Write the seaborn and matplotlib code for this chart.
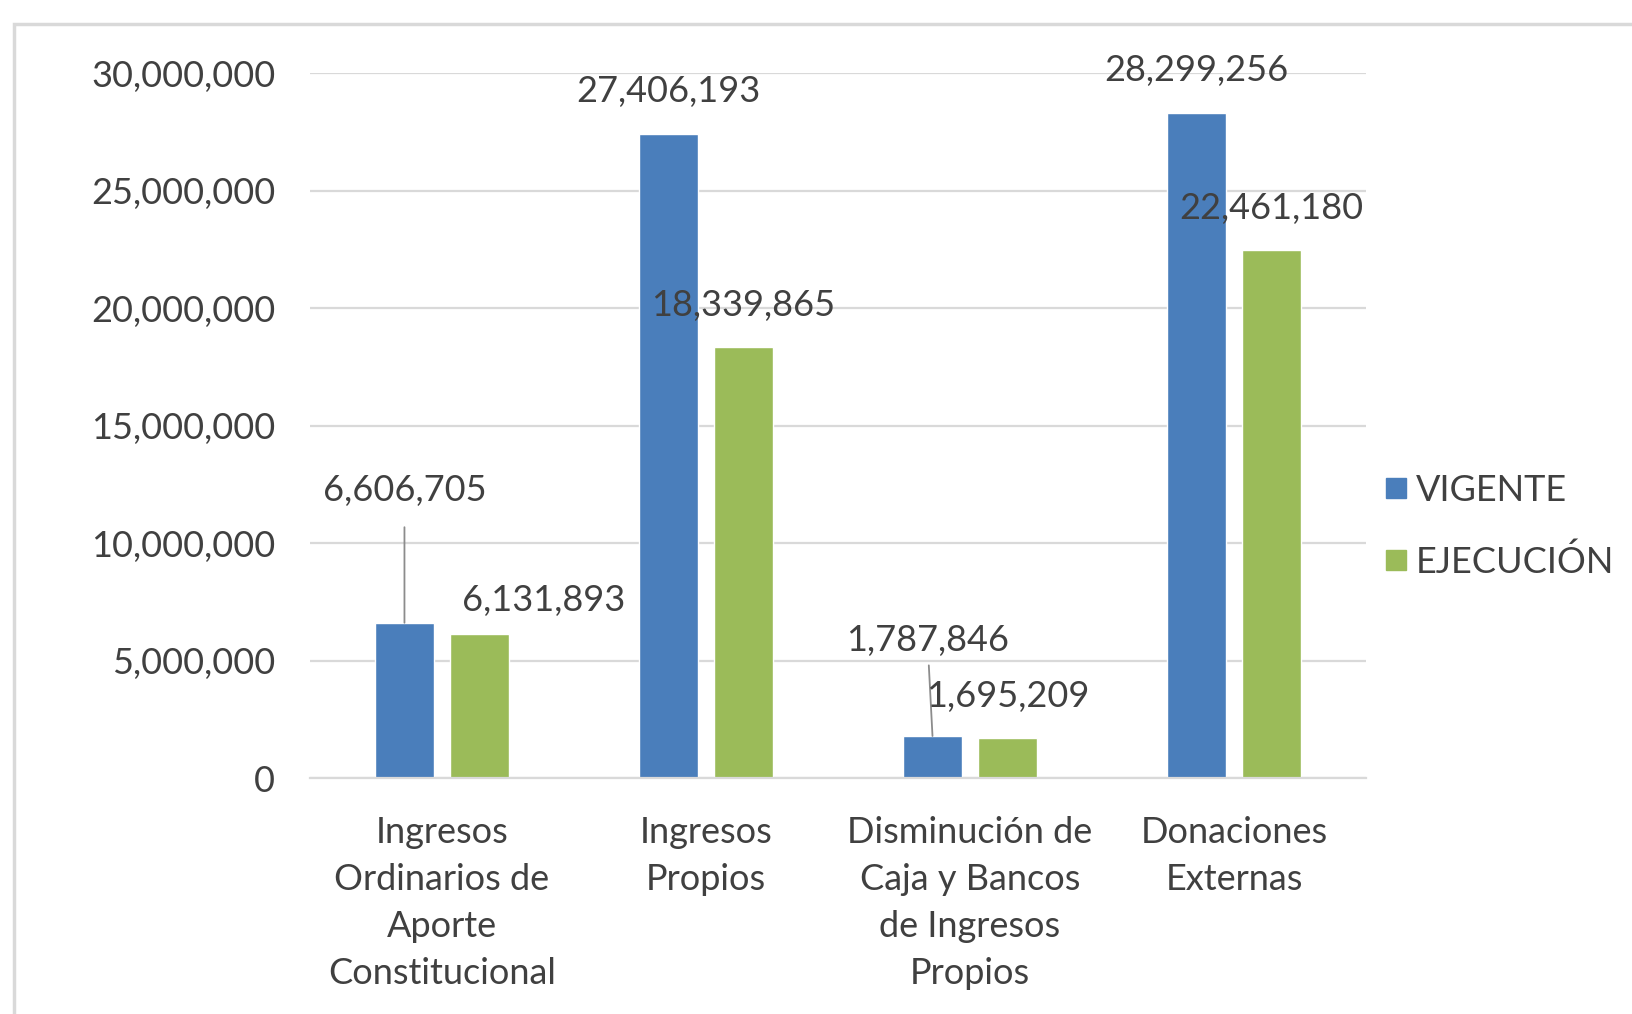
import pandas as pd
import matplotlib
matplotlib.use('Agg')
import matplotlib.pyplot as plt
import seaborn as sns
from matplotlib.lines import Line2D
from matplotlib.patches import Rectangle
from matplotlib.ticker import FuncFormatter

# Data
categories = ['Ingresos\nOrdinarios de\nAporte\nConstitucional',
              'Ingresos\nPropios',
              'Disminución de\nCaja y Bancos\nde Ingresos\nPropios',
              'Donaciones\nExternas']
vigente = [6606705, 27406193, 1787846, 28299256]
ejecucion = [6131893, 18339865, 1695209, 22461180]
series = ['VIGENTE', 'EJECUCIÓN']

df = pd.DataFrame({
    'Categoria': categories * 2,
    'Serie': [series[0]] * 4 + [series[1]] * 4,
    'Valor': vigente + ejecucion,
})

sns.set_theme(style='white')
plt.rcParams['font.family'] = ['Lato', 'DejaVu Sans']

text_color = '#404040'
colors = ['#4a7ebb', '#9bbb59']

fig = plt.figure(figsize=(16.33, 10.14), dpi=100)
ax = fig.add_axes([0.1898, 0.2327, 0.6467, 0.6953])

sns.barplot(data=df, x='Categoria', y='Valor', hue='Serie', hue_order=series,
            palette=colors, width=0.568, gap=0.222, saturation=1,
            ax=ax, legend=False)

ax.set_ylim(0, 30000000)
ax.set_yticks(range(0, 30000001, 5000000))
ax.yaxis.set_major_formatter(FuncFormatter(lambda v, p: f'{int(v):,}'))
ax.grid(axis='y', color='#d9d9d9', linewidth=1.6)
ax.set_axisbelow(True)
for side in ['top', 'right', 'left']:
    ax.spines[side].set_visible(False)
ax.spines['bottom'].set_color('#d9d9d9')
ax.spines['bottom'].set_linewidth(1.6)
ax.set_xlabel('')
ax.set_ylabel('')
ax.tick_params(axis='y', length=0, pad=25, labelsize=26, labelcolor=text_color)
ax.tick_params(axis='x', length=0, pad=27, labelsize=26, labelcolor=text_color)
for lbl in ax.get_xticklabels():
    lbl.set_linespacing(1.53)
    lbl.set_verticalalignment('top')

# Label offsets in pixels (dx, dy) and whether a leader line is drawn
offsets = {
    (0, 0): (0, 132, True), (0, 1): (64, 33, False),
    (1, 0): (0, 42, False), (1, 1): (0, 42, False),
    (2, 0): (-5, 96, True), (2, 1): (0, 42, False),
    (3, 0): (0, 42, False), (3, 1): (0, 42, False),
}
for s, cont in enumerate(ax.containers):
    for c, bar in enumerate(cont):
        val = bar.get_height()
        x = bar.get_x() + bar.get_width() / 2
        dx, dy, leader = offsets[(c, s)]
        kw = {}
        if leader:
            kw['arrowprops'] = dict(arrowstyle='-', color='#8c8c8c', lw=1.3,
                                    shrinkA=12 if c == 0 else 4, shrinkB=0)
        ax.annotate(f'{int(val):,}', xy=(x, val), xytext=(dx, dy),
                    textcoords='offset pixels', ha='center', va='center',
                    fontsize=26, color=text_color, **kw)

handles = [Line2D([0], [0], marker='s', linestyle='', markersize=15,
                  markerfacecolor=colors[i], markeredgecolor=colors[i])
           for i in range(2)]
fig.legend(handles, series, loc='center left', bbox_to_anchor=(0.824, 0.481),
           frameon=False, fontsize=26, labelcolor=text_color,
           handletextpad=0.05, labelspacing=1.05, handlelength=1.0)

# Light frame around the chart area
fig.patches.append(Rectangle((14 / 1633, -0.1), 1.2, 1 - 24 / 1014 + 0.1,
                             transform=fig.transFigure, fill=False,
                             edgecolor='#d9d9d9', linewidth=2.5))

fig.savefig('out.png', dpi=100, facecolor='white')
